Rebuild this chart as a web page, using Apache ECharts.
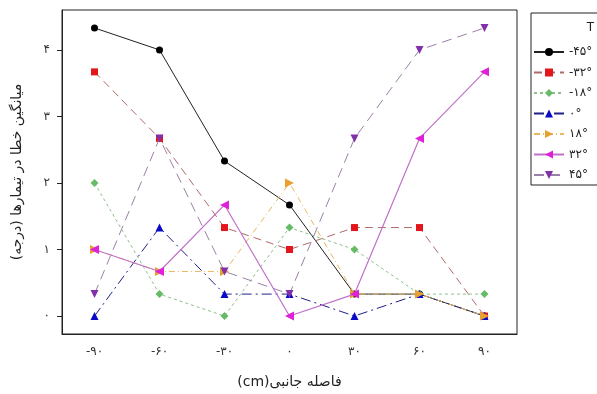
<!DOCTYPE html>
<html>
<head>
<meta charset="utf-8">
<script src="https://cdn.jsdelivr.net/npm/echarts@6/dist/echarts.min.js"></script>
<style>
  html, body { margin: 0; padding: 0; background: #fff; }
  #chart { width: 597px; height: 394px; }
</style>
</head>
<body>
<div id="chart"></div>
<script>
// lateral distance (cm)
const distances = [-90, -60, -30, 0, 30, 60, 90];
const yTicks = [0, 1, 2, 3, 4];

// mean error per treatment (degrees)
const seriesNames = ['-۴۵°', '-۳۲°', '-۱۸°', '۰°', '۱۸°', '۳۲°', '۴۵°'];
const errM45 = [4.33, 4.0, 2.33, 1.67, 0.33, 0.33, 0];
const errM32 = [3.67, 2.67, 1.33, 1.0, 1.33, 1.33, 0];
const errM18 = [2.0, 0.33, 0, 1.33, 1.0, 0.33, 0.33];
const err0 = [0, 1.33, 0.33, 0.33, 0, 0.33, 0];
const errP18 = [1.0, 0.67, 0.67, 2.0, 0.33, 0.33, 0];
const errP32 = [1.0, 0.67, 1.67, 0, 0.33, 2.67, 3.67];
const errP45 = [0.33, 2.67, 0.67, 0.33, 2.67, 4.0, 4.33];

const faDigits = '۰۱۲۳۴۵۶۷۸۹';
const toFa = (v) => String(v).replace(/\d/g, d => faDigits[d]);

const FONT = 'DejaVu Sans';

// style per series: [data, marker colour, line colour, symbol, rotate, dash, width, size]
const styles = [
  [errM45, '#000000', '#222222', 'circle', 0, 'solid', 1, 7],
  [errM32, '#e3161c', '#b06a6a', 'rect', 0, [8, 5], 1, 7],
  [errM18, '#66bb66', '#8cbf8c', 'diamond', 0, [3, 3], 1, 8],
  [err0, '#0a0ac8', '#20208a', 'triangle', 0, [10, 4, 2, 4], 1, 8],
  [errP18, '#e8a030', '#e8b860', 'triangle', -90, [6, 3, 1, 3], 1, 9],
  [errP32, '#e020d8', '#c070c8', 'triangle', 90, 'solid', 1.2, 9],
  [errP45, '#8030a8', '#9a80a8', 'triangle', 180, [10, 6], 1, 8]
];

const series = styles.map((s, i) => ({
  name: seriesNames[i],
  type: 'line',
  z: 2 + i,
  data: s[0],
  symbol: s[3],
  symbolRotate: s[4],
  symbolSize: s[7],
  showAllSymbol: true,
  itemStyle: { color: s[1] },
  lineStyle: { color: s[2], type: s[5], width: s[6] }
}));

const chart = echarts.init(document.getElementById('chart'));
chart.setOption({
  animation: false,
  backgroundColor: '#fff',
  grid: {
    left: 62, top: 10, right: 80, bottom: 59,
    show: true, borderColor: '#222', borderWidth: 1
  },
  legend: {
    orient: 'vertical',
    left: 533,
    top: 46,
    itemWidth: 30,
    itemHeight: 10,
    itemGap: 8.5,
    padding: 0,
    textStyle: { fontFamily: FONT, fontSize: 12, color: '#222' },
    data: seriesNames
  },
  graphic: [
    {
      type: 'rect',
      shape: { x: 531, y: 13, width: 80, height: 172 },
      style: { fill: 'none', stroke: '#222', lineWidth: 1 },
      z: 0
    },
    {
      type: 'text',
      x: 594, y: 28,
      style: {
        text: 'T', fontFamily: FONT, fontSize: 12, fill: '#222',
        align: 'right', verticalAlign: 'middle'
      }
    }
  ],
  xAxis: {
    type: 'category',
    data: distances,
    boundaryGap: true,
    name: '(cm)فاصله جانبی',
    nameLocation: 'middle',
    nameGap: 41,
    nameTextStyle: { fontFamily: FONT, fontSize: 14, color: '#222' },
    axisLine: { onZero: false, lineStyle: { color: '#222' } },
    axisTick: { alignWithLabel: true, length: 5, lineStyle: { color: '#222' } },
    axisLabel: { fontFamily: FONT, fontSize: 12, color: '#333', margin: 12, formatter: (v) => toFa(v) },
    splitLine: { show: false }
  },
  yAxis: {
    type: 'value',
    min: -0.27,
    max: 4.6,
    name: 'میانگین خطا در تیمارها (درجه)',
    nameLocation: 'middle',
    nameGap: 38,
    nameTextStyle: { fontFamily: FONT, fontSize: 14, color: '#222' },
    axisLine: { show: true, lineStyle: { color: '#222' } },
    axisTick: { show: true, length: 5, customValues: yTicks, lineStyle: { color: '#222' } },
    axisLabel: { fontFamily: FONT, fontSize: 12, color: '#333', margin: 12, customValues: yTicks, formatter: (v) => toFa(v) },
    splitLine: { show: false }
  },
  series: series
});
</script>
</body>
</html>
